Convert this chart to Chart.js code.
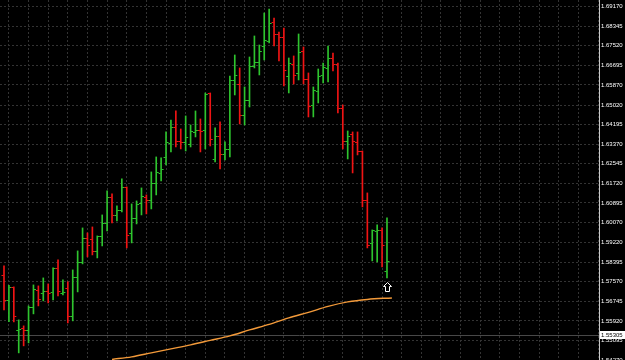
<!DOCTYPE html>
<html>
<head>
<meta charset="utf-8">
<script src="https://cdn.jsdelivr.net/npm/chart.js@4/dist/chart.umd.min.js"></script>
<style>
  html, body { margin: 0; padding: 0; background: #000; }
  canvas { display: block; }
</style>
</head>
<body>
<canvas id="chart" width="625" height="360"></canvas>
<script>
// bar data (oldest first)
const opens = [1.57817,1.56763,1.57311,1.55498,1.55582,1.55498,1.56467,1.57184,1.57058,1.57142,
  1.57100,1.58112,1.57058,1.57269,1.56088,1.57732,1.58365,1.59377,1.59334,1.58828,
  1.59461,1.60009,1.61105,1.60346,1.60557,1.61527,1.59587,1.60220,1.60852,1.61105,
  1.60979,1.61695,1.62117,1.62791,1.63382,1.64056,1.63466,1.63424,1.63339,1.63845,
  1.63930,1.63930,1.65490,1.62707,1.63677,1.62918,1.63129,1.66038,1.65869,1.64562,
  1.65194,1.66628,1.66797,1.67471,1.67682,1.68483,1.67977,1.67850,1.66206,1.66712,
  1.66333,1.67260,1.66080,1.64984,1.65574,1.66248,1.66544,1.66965,1.66712,1.64857,
  1.63466,1.63761,1.63424,1.63044,1.60979,1.59166,1.59693,1.59714,1.57985];
const highs = [1.58238,1.57416,1.57353,1.55962,1.55709,1.56552,1.57437,1.57395,1.57732,1.57479,
  1.58154,1.58491,1.57648,1.57564,1.58070,1.58871,1.59840,1.59630,1.59882,1.59503,
  1.60388,1.61400,1.61274,1.60768,1.61906,1.61569,1.60852,1.60979,1.61527,1.61232,
  1.62201,1.62834,1.62791,1.63888,1.64393,1.64773,1.64014,1.64562,1.64183,1.64773,
  1.64436,1.65532,1.65532,1.64056,1.64309,1.63466,1.66248,1.67134,1.66586,1.65785,
  1.67049,1.67935,1.67555,1.68904,1.69073,1.68694,1.68103,1.68272,1.67007,1.67092,
  1.68019,1.67471,1.66375,1.65785,1.66544,1.66797,1.67513,1.67218,1.66797,1.65026,
  1.63930,1.63888,1.63888,1.63086,1.61316,1.59756,1.59967,1.59840,1.60262];
const lows = [1.56383,1.55890,1.55877,1.54570,1.54866,1.54992,1.56215,1.56552,1.56763,1.56678,
  1.56805,1.56973,1.57016,1.55835,1.55920,1.57142,1.58323,1.58618,1.58702,1.58575,
  1.59081,1.59714,1.60051,1.60135,1.60515,1.58997,1.59208,1.60009,1.60388,1.60431,
  1.60641,1.61232,1.61822,1.62496,1.63044,1.63255,1.63171,1.63086,1.63255,1.63677,
  1.63044,1.63171,1.63297,1.62623,1.62328,1.62707,1.62834,1.65447,1.64225,1.64183,
  1.64941,1.66586,1.66291,1.66923,1.67640,1.67513,1.66881,1.65827,1.65532,1.65911,
  1.66080,1.65911,1.64520,1.64520,1.65110,1.65953,1.65996,1.66459,1.64689,1.63171,
  1.62749,1.62159,1.62918,1.60726,1.58997,1.58449,1.58407,1.58196,1.57732];
const closes = [1.56763,1.57311,1.56088,1.55561,1.55498,1.56467,1.57226,1.56805,1.57142,1.57058,
  1.58112,1.57142,1.57121,1.56088,1.57732,1.58365,1.59377,1.59081,1.58828,1.59461,
  1.60009,1.61105,1.60346,1.60557,1.61527,1.59503,1.60220,1.60810,1.61147,1.60979,
  1.61695,1.62159,1.62286,1.63424,1.64056,1.63466,1.63424,1.63635,1.63888,1.63930,
  1.63888,1.65447,1.63550,1.63677,1.62918,1.63129,1.66038,1.66248,1.64562,1.65194,
  1.66628,1.66797,1.67260,1.67724,1.68441,1.67977,1.67850,1.66459,1.66754,1.66248,
  1.67218,1.66080,1.64941,1.65616,1.66206,1.66586,1.66965,1.66712,1.64857,1.63466,
  1.63677,1.63466,1.63044,1.60979,1.59081,1.59714,1.59735,1.59081,1.58407];

// moving average, read at a few bars
const maIndex = [22, 26, 30, 34, 38, 42, 46, 50, 54, 58, 62, 66, 70, 74, 79];
const maValues = [1.54296, 1.54402, 1.54571, 1.54739, 1.54908, 1.55097, 1.55287, 1.55540,
  1.55772, 1.56046, 1.56278, 1.56531, 1.56721, 1.56826, 1.56889];

const yTicks = [1.69170,1.68345,1.67520,1.66695,1.65870,1.65020,1.64195,1.63370,1.62545,1.61720,
  1.60895,1.60070,1.59220,1.58395,1.57570,1.56745,1.55920,1.55095,1.54270];
const priceLine = 1.55305;
const arrowIndex = 78;
const arrowPrice = 1.5735;

const UP = '#2ec42e';
const DOWN = '#f01414';

const wicks = highs.map((h, i) => ({x: i, y: [lows[i], h]}));
const barColors = closes.map((c, i) => c >= opens[i] ? UP : DOWN);
const ma = maIndex.map((x, i) => ({x: x, y: maValues[i]}));

const extras = {
  id: 'extras',
  beforeDatasetsDraw(chart) {
    const ctx = chart.ctx;
    const area = chart.chartArea;
    const y = Math.round(chart.scales.y.getPixelForValue(priceLine)) + 0.5;
    ctx.save();
    ctx.strokeStyle = '#484848';
    ctx.lineWidth = 1;
    ctx.beginPath();
    ctx.moveTo(area.left, y);
    ctx.lineTo(area.right, y);
    ctx.stroke();
    ctx.restore();
  },
  afterDatasetsDraw(chart) {
    const ctx = chart.ctx;
    const xs = chart.scales.x;
    const ys = chart.scales.y;
    ctx.save();
    // open / close ticks
    for (let i = 0; i < opens.length; i++) {
      const px = xs.getPixelForValue(i);
      ctx.fillStyle = barColors[i];
      const oy = Math.round(ys.getPixelForValue(opens[i]) - 0.5);
      const cy = Math.round(ys.getPixelForValue(closes[i]) - 0.5);
      ctx.fillRect(px - 2.5, oy, 2, 1);
      ctx.fillRect(px + 0.5, cy, 2, 1);
    }
    // buy arrow
    const ax = Math.round(xs.getPixelForValue(arrowIndex)) + 0.5;
    const ay = Math.round(ys.getPixelForValue(arrowPrice)) + 0.5;
    ctx.strokeStyle = '#ffffff';
    ctx.lineWidth = 1;
    ctx.beginPath();
    ctx.moveTo(ax, ay - 5);
    ctx.lineTo(ax + 4, ay - 1);
    ctx.lineTo(ax + 2, ay - 1);
    ctx.lineTo(ax + 2, ay + 4);
    ctx.lineTo(ax - 2, ay + 4);
    ctx.lineTo(ax - 2, ay - 1);
    ctx.lineTo(ax - 4, ay - 1);
    ctx.closePath();
    ctx.stroke();
    ctx.restore();
  },
  afterDraw(chart) {
    const ctx = chart.ctx;
    const ys = chart.scales.y;
    const y = ys.getPixelForValue(priceLine);
    ctx.save();
    ctx.fillStyle = '#ffffff';
    ctx.fillRect(ys.left + 1, Math.round(y) - 4, 26, 8);
    ctx.fillStyle = '#000000';
    ctx.font = '6px "Liberation Sans"';
    ctx.textBaseline = 'middle';
    ctx.textAlign = 'left';
    ctx.fillText(priceLine.toFixed(5), ys.left + 2, Math.round(y));
    ctx.restore();
  }
};

const ctx = document.getElementById('chart').getContext('2d');
const myChart = new Chart(ctx, {
  data: {
    datasets: [
      {
        type: 'line',
        data: ma,
        borderColor: '#f39a3a',
        borderWidth: 1.5,
        pointRadius: 0,
        cubicInterpolationMode: 'monotone',
        order: 0
      },
      {
        type: 'bar',
        data: wicks,
        backgroundColor: barColors,
        borderWidth: 0,
        barThickness: 1,
        order: 1
      }
    ]
  },
  options: {
    responsive: false,
    animation: false,
    devicePixelRatio: 1,
    layout: { padding: 0 },
    plugins: { legend: { display: false }, tooltip: { enabled: false } },
    scales: {
      x: {
        type: 'linear',
        min: -0.8147,
        max: 121.18,
        offset: false,
        afterBuildTicks: s => { s.ticks = []; for (let v = 3; v < 121; v += 4) s.ticks.push({value: v}); },
        afterFit: s => { s.height = 0; s.paddingLeft = 0; s.paddingRight = 0; },
        ticks: { display: false },
        grid: { color: '#333333', drawTicks: false },
        border: { display: false, dash: [2, 2] }
      },
      y: {
        position: 'right',
        min: 1.5427,
        max: 1.69452,
        afterBuildTicks: s => { s.ticks = yTicks.map(v => ({value: v})); },
        afterFit: s => { s.width = 26; s.paddingTop = 0; s.paddingBottom = 0; },
        ticks: {
          autoSkip: false,
          padding: 2,
          color: '#ffffff',
          font: { family: 'Liberation Sans', size: 6 },
          callback: v => v.toFixed(5)
        },
        grid: { color: '#333333', drawTicks: false },
        border: { display: true, color: '#c8c8c8', width: 1, dash: [2, 2] }
      }
    }
  },
  plugins: [extras]
});
</script>
</body>
</html>
